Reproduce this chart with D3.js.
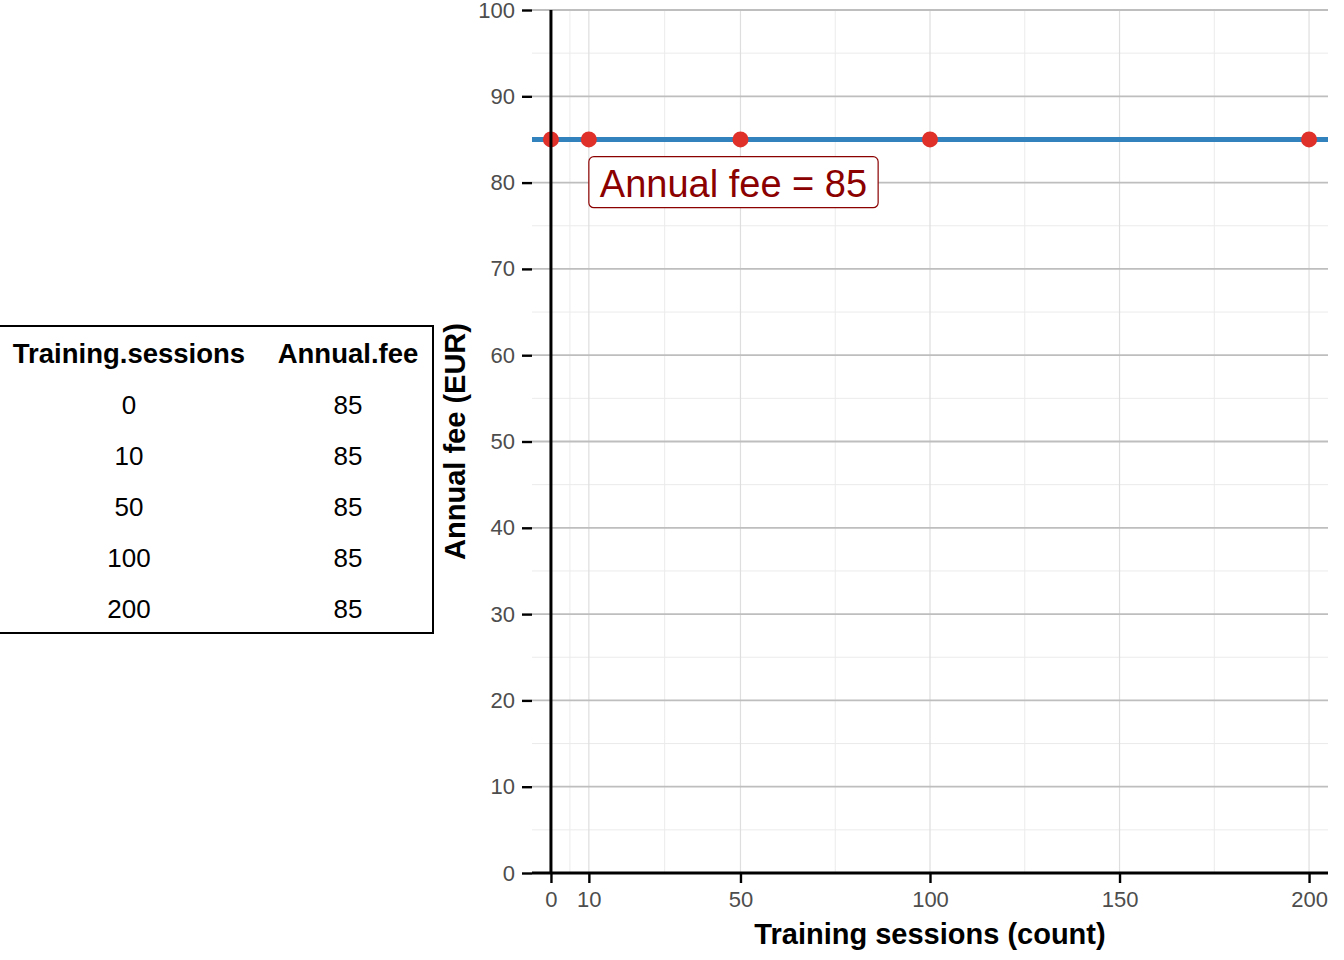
<!DOCTYPE html>
<html><head><meta charset="utf-8">
<script src="https://cdn.jsdelivr.net/npm/d3@7"></script>
<style>
html,body{margin:0;padding:0;background:#fff;}
svg{display:block;font-family:"Liberation Sans",Arial,sans-serif;}
</style></head>
<body>
<svg id="c" width="1344" height="960"></svg>
<script>
// ---- data ----
const sessions = [0, 10, 50, 100, 200];
const fees = [85, 85, 85, 85, 85];
const feeLine = 85;
const xTicks = [0, 10, 50, 100, 150, 200];
const xMinor = [5, 30, 75, 125, 175];
const yTicks = [0, 10, 20, 30, 40, 50, 60, 70, 80, 90, 100];
const yMinor = [5, 15, 25, 35, 45, 55, 65, 75, 85, 95];
const tableHeaders = ["Training.sessions", "Annual.fee"];
const labelText = "Annual fee = 85";
const labelPos = [10, 83];
const xTitle = "Training sessions (count)";
const yTitle = "Annual fee (EUR)";

const svg = d3.select("#c");
const L = 532, R = 1328, T = 10, B = 873;
const x = d3.scaleLinear().domain([-5, 205]).range([L, R]);
const y = d3.scaleLinear().domain([0, 100]).range([B, T]);

const g = svg.append("g");
// minor grid
g.selectAll(".ymin").data(yMinor).join("line")
  .attr("x1", L).attr("x2", R).attr("y1", d => y(d)).attr("y2", d => y(d))
  .attr("stroke", "#ebebeb").attr("stroke-width", 1);
g.selectAll(".xmin").data(xMinor).join("line")
  .attr("y1", T).attr("y2", B).attr("x1", d => x(d)).attr("x2", d => x(d))
  .attr("stroke", "#ebebeb").attr("stroke-width", 1);
// major grid
g.selectAll(".xmaj").data(xTicks).join("line")
  .attr("y1", T).attr("y2", B).attr("x1", d => x(d)).attr("x2", d => x(d))
  .attr("stroke", "#dedede").attr("stroke-width", 1.2);
g.selectAll(".ymaj").data(yTicks).join("line")
  .attr("x1", L).attr("x2", R).attr("y1", d => y(d)).attr("y2", d => y(d))
  .attr("stroke", "#bebebe").attr("stroke-width", 1.8);

// hline
g.append("line").attr("x1", L).attr("x2", R).attr("y1", y(feeLine)).attr("y2", y(feeLine))
  .attr("stroke", "#3182bd").attr("stroke-width", 5);
// points
g.selectAll(".pt").data(sessions.map((s, i) => [s, fees[i]])).join("circle")
  .attr("cx", d => x(d[0])).attr("cy", d => y(d[1])).attr("r", 8)
  .attr("fill", "#e0302a");
// vline at x=0
g.append("line").attr("x1", x(0)).attr("x2", x(0)).attr("y1", T).attr("y2", B)
  .attr("stroke", "#000").attr("stroke-width", 3);

// axes
const xa = svg.append("g").attr("transform", `translate(0,${B})`)
  .call(d3.axisBottom(x).tickValues(xTicks).tickSize(10).tickPadding(8).tickSizeOuter(0));
xa.select(".domain").remove();
xa.append("line").attr("x1", L).attr("x2", R).attr("stroke", "#000").attr("stroke-width", 2.8);
xa.selectAll(".tick line").attr("stroke", "#000").attr("stroke-width", 2.4);
xa.selectAll(".tick text").attr("fill", "#4d4d4d").style("font-size", "22px")
  .style("font-family", "'Liberation Sans',Arial,sans-serif");

const ya = svg.append("g").attr("transform", `translate(${L},0)`)
  .call(d3.axisLeft(y).tickValues(yTicks).tickSize(10).tickPadding(7).tickSizeOuter(0));
ya.select(".domain").remove();
ya.selectAll(".tick line").attr("stroke", "#000").attr("stroke-width", 2.4);
ya.selectAll(".tick text").attr("fill", "#4d4d4d").style("font-size", "22px")
  .style("font-family", "'Liberation Sans',Arial,sans-serif");

// titles
svg.append("text").attr("x", (L + R) / 2).attr("y", 944).attr("text-anchor", "middle")
  .style("font-size", "29px").style("font-weight", "bold").attr("fill", "#000").text(xTitle);
svg.append("text").attr("transform", `translate(465,${(T + B) / 2}) rotate(-90)`)
  .attr("text-anchor", "middle").style("font-size", "29px").style("font-weight", "bold")
  .attr("fill", "#000").text(yTitle);

// label
const lab = svg.append("g");
const lt = lab.append("text").attr("x", x(labelPos[0]) + 11).attr("y", y(labelPos[1]) + 40)
  .style("font-size", "38px").attr("fill", "#8b0000").text(labelText);
const bb = lt.node().getBBox();
lab.insert("rect", "text").attr("x", x(labelPos[0])).attr("y", y(labelPos[1]))
  .attr("width", bb.width + 22).attr("height", 51).attr("rx", 5).attr("ry", 5)
  .attr("fill", "#fff").attr("stroke", "#8b0000").attr("stroke-width", 1.2);

// table
const tg = svg.append("g");
tg.append("rect").attr("x", -5).attr("y", 326).attr("width", 438).attr("height", 307)
  .attr("fill", "#fff").attr("stroke", "#000").attr("stroke-width", 2);
const colX = [129, 348];
tableHeaders.forEach((h, i) => {
  tg.append("text").attr("x", colX[i]).attr("y", 363).attr("text-anchor", "middle")
    .style("font-size", "27.5px").style("font-weight", "bold").attr("fill", "#000").text(h);
});
sessions.forEach((s, r) => {
  const by = 414 + r * 51.1;
  tg.append("text").attr("x", colX[0]).attr("y", by).attr("text-anchor", "middle")
    .style("font-size", "26px").attr("fill", "#000").text(s);
  tg.append("text").attr("x", colX[1]).attr("y", by).attr("text-anchor", "middle")
    .style("font-size", "26px").attr("fill", "#000").text(fees[r]);
});
</script>
</body></html>
